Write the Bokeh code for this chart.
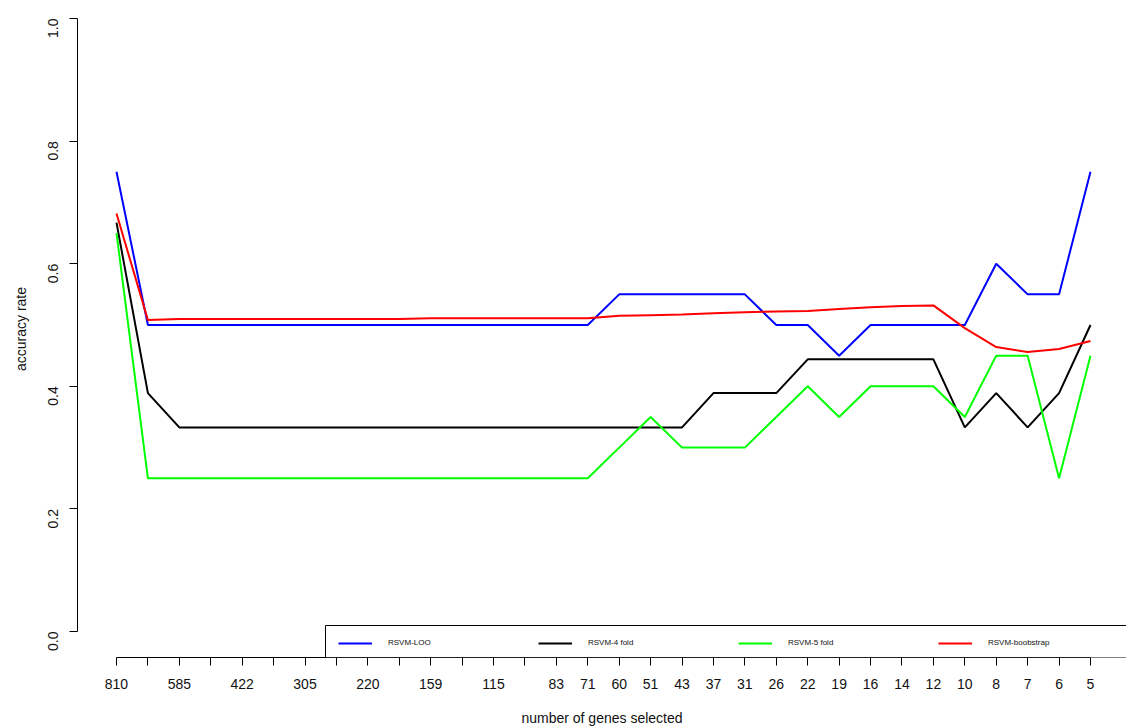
import math
from bokeh.plotting import figure
from bokeh.models import (Range1d, LinearAxis, FixedTicker, Legend, LegendItem,
                          PrintfTickFormatter, BoxAnnotation)
from bokeh.embed import file_html
from bokeh.resources import INLINE

# Number of genes kept at each elimination step (x axis, left to right)
gene_counts = [810, 688, 585, 497, 422, 359, 305, 259, 220, 187, 159, 135, 115, 98,
               83, 71, 60, 51, 43, 37, 31, 26, 22, 19, 16, 14, 12, 10, 8, 7, 6, 5]

# Accuracy rate for each validation scheme
acc_loo = [0.75, 0.5, 0.5, 0.5, 0.5, 0.5, 0.5, 0.5, 0.5, 0.5, 0.5, 0.5, 0.5, 0.5,
           0.5, 0.5, 0.55, 0.55, 0.55, 0.55, 0.55, 0.5, 0.5, 0.45, 0.5, 0.5, 0.5,
           0.5, 0.6, 0.55, 0.55, 0.75]
acc_4fold = [0.667, 0.389, 0.333, 0.333, 0.333, 0.333, 0.333, 0.333, 0.333, 0.333,
             0.333, 0.333, 0.333, 0.333, 0.333, 0.333, 0.333, 0.333, 0.333, 0.389,
             0.389, 0.389, 0.444, 0.444, 0.444, 0.444, 0.444, 0.333, 0.389, 0.333,
             0.389, 0.5]
acc_5fold = [0.65, 0.25, 0.25, 0.25, 0.25, 0.25, 0.25, 0.25, 0.25, 0.25, 0.25, 0.25,
             0.25, 0.25, 0.25, 0.25, 0.3, 0.35, 0.3, 0.3, 0.3, 0.35, 0.4, 0.35, 0.4,
             0.4, 0.4, 0.35, 0.45, 0.45, 0.25, 0.45]
acc_boot = [0.682, 0.508, 0.510, 0.510, 0.510, 0.510, 0.510, 0.510, 0.510, 0.510,
            0.511, 0.511, 0.511, 0.511, 0.511, 0.511, 0.515, 0.516, 0.517, 0.519,
            0.521, 0.522, 0.523, 0.526, 0.529, 0.531, 0.532, 0.495, 0.464, 0.456,
            0.461, 0.474]

series_names = ["RSVM-LOO", "RSVM-4 fold", "RSVM-5 fold", "RSVM-boobstrap"]
series_colors = ["#0000FF", "#000000", "#00FF00", "#FF0000"]
y_ticks = [0.0, 0.2, 0.4, 0.6, 0.8, 1.0]

FONT = "Liberation Sans"

steps = list(range(len(gene_counts)))

# x span padded like R's default 4% extension; right side runs off the canvas
x_lo, x_hi = -1.241, 32.146
y_lo, y_hi = -0.0424, 1.0294

p = figure(width=1126, height=728, output_backend="svg", toolbar_location=None,
           x_range=Range1d(x_lo, x_hi), y_range=Range1d(y_lo, y_hi),
           x_axis_type=None, y_axis_type=None)
p.min_border = 0
p.min_border_left = 77
p.min_border_bottom = 71
p.outline_line_color = None
p.background_fill_color = "white"
p.border_fill_color = "white"

renderers = []
for vals, col in zip([acc_loo, acc_4fold, acc_5fold, acc_boot], series_colors):
    r = p.line(steps, vals, line_color=col, line_width=2)
    renderers.append(r)

# Step axis: long 3-digit labels collide, so only every other one is printed
overrides = {}
for i, g in enumerate(gene_counts):
    overrides[i] = str(g) if (i % 2 == 0 or i >= 14) else ""

xaxis = LinearAxis(bounds=(0, len(gene_counts) - 1),
                   ticker=FixedTicker(ticks=steps, minor_ticks=[]),
                   major_label_overrides=overrides,
                   axis_label="number of genes selected")
yaxis = LinearAxis(bounds=(0, 1),
                   ticker=FixedTicker(ticks=y_ticks, minor_ticks=[]),
                   formatter=PrintfTickFormatter(format="%.1f"),
                   major_label_orientation=math.pi / 2,
                   axis_label="accuracy rate")

for ax in (xaxis, yaxis):
    ax.axis_line_color = "black"
    ax.axis_line_width = 1
    ax.major_tick_line_color = "black"
    ax.major_tick_out = 8
    ax.major_tick_in = 0
    ax.minor_tick_out = 0
    ax.minor_tick_in = 0
    ax.major_label_text_font = FONT
    ax.major_label_text_font_size = "14px"
    ax.major_label_text_color = "#111111"
    ax.axis_label_text_font = FONT
    ax.axis_label_text_font_size = "14px"
    ax.axis_label_text_font_style = "normal"
    ax.axis_label_text_color = "#111111"

xaxis.major_label_standoff = 13
xaxis.axis_label_standoff = 18
yaxis.major_label_standoff = 16
yaxis.axis_label_standoff = 12

p.add_layout(xaxis, "below")
p.add_layout(yaxis, "left")

# Horizontal key along the bottom; its frame runs past the right edge
legend_box = BoxAnnotation(left=6.652, right=x_hi + 2, top=0.0098, bottom=y_lo,
                           fill_color="white", fill_alpha=1.0,
                           line_color="black", line_width=1, line_alpha=1.0)
p.add_layout(legend_box)

items = [LegendItem(label=n, renderers=[r]) for n, r in zip(series_names, renderers)]
legend = Legend(items=items, orientation="horizontal", location=(250, -1),
                padding=11, spacing=0, margin=0,
                glyph_width=34, glyph_height=8, label_height=8,
                label_width=150, label_standoff=16,
                label_text_font=FONT, label_text_font_size="8px",
                label_text_color="#111111",
                border_line_color="black", border_line_alpha=0.0,
                background_fill_alpha=0.0)
p.add_layout(legend, "center")

open("out.html", "w").write(file_html(p, INLINE))
